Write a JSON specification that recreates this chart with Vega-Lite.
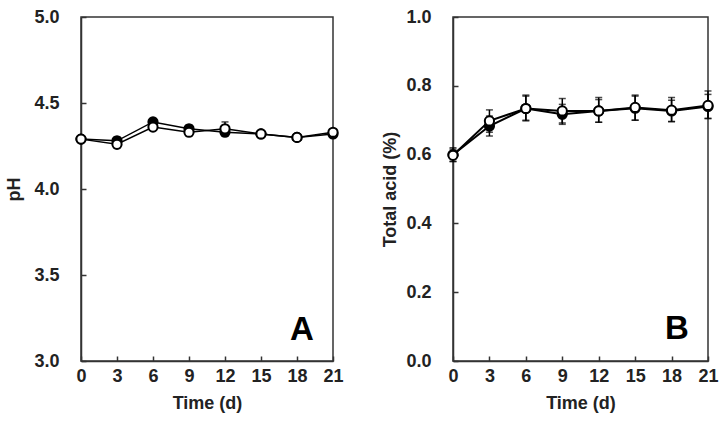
{
  "$schema": "https://vega.github.io/schema/vega-lite/v6.json",
  "autosize": {"type": "pad"},
  "padding": {"left": 5, "top": 7, "right": 0, "bottom": 0},
  "background": "white",
  "bounds": "flush",
  "spacing": 120,
  "datasets": {
    "ph": [
      {"t": 0, "series": "filled", "v": 4.29, "lo": 4.28, "hi": 4.30},
      {"t": 3, "series": "filled", "v": 4.28, "lo": 4.26, "hi": 4.30},
      {"t": 6, "series": "filled", "v": 4.39, "lo": 4.37, "hi": 4.41},
      {"t": 9, "series": "filled", "v": 4.35, "lo": 4.33, "hi": 4.37},
      {"t": 12, "series": "filled", "v": 4.33, "lo": 4.31, "hi": 4.35},
      {"t": 15, "series": "filled", "v": 4.32, "lo": 4.31, "hi": 4.33},
      {"t": 18, "series": "filled", "v": 4.30, "lo": 4.29, "hi": 4.31},
      {"t": 21, "series": "filled", "v": 4.32, "lo": 4.31, "hi": 4.33},
      {"t": 0, "series": "open", "v": 4.29, "lo": 4.28, "hi": 4.30},
      {"t": 3, "series": "open", "v": 4.26, "lo": 4.24, "hi": 4.28},
      {"t": 6, "series": "open", "v": 4.36, "lo": 4.35, "hi": 4.37},
      {"t": 9, "series": "open", "v": 4.33, "lo": 4.31, "hi": 4.35},
      {"t": 12, "series": "open", "v": 4.35, "lo": 4.31, "hi": 4.39},
      {"t": 15, "series": "open", "v": 4.32, "lo": 4.31, "hi": 4.33},
      {"t": 18, "series": "open", "v": 4.30, "lo": 4.29, "hi": 4.31},
      {"t": 21, "series": "open", "v": 4.33, "lo": 4.32, "hi": 4.34}
    ],
    "acid": [
      {"t": 0, "series": "filled", "v": 0.600, "lo": 0.580, "hi": 0.620},
      {"t": 3, "series": "filled", "v": 0.683, "lo": 0.654, "hi": 0.712},
      {"t": 6, "series": "filled", "v": 0.734, "lo": 0.698, "hi": 0.770},
      {"t": 9, "series": "filled", "v": 0.717, "lo": 0.688, "hi": 0.746},
      {"t": 12, "series": "filled", "v": 0.727, "lo": 0.694, "hi": 0.760},
      {"t": 15, "series": "filled", "v": 0.735, "lo": 0.700, "hi": 0.770},
      {"t": 18, "series": "filled", "v": 0.727, "lo": 0.696, "hi": 0.758},
      {"t": 21, "series": "filled", "v": 0.740, "lo": 0.705, "hi": 0.775},
      {"t": 0, "series": "open", "v": 0.598, "lo": 0.580, "hi": 0.616},
      {"t": 3, "series": "open", "v": 0.698, "lo": 0.665, "hi": 0.730},
      {"t": 6, "series": "open", "v": 0.734, "lo": 0.700, "hi": 0.773},
      {"t": 9, "series": "open", "v": 0.727, "lo": 0.692, "hi": 0.763},
      {"t": 12, "series": "open", "v": 0.727, "lo": 0.694, "hi": 0.766},
      {"t": 15, "series": "open", "v": 0.737, "lo": 0.700, "hi": 0.773},
      {"t": 18, "series": "open", "v": 0.729, "lo": 0.696, "hi": 0.766},
      {"t": 21, "series": "open", "v": 0.743, "lo": 0.705, "hi": 0.785}
    ],
    "labA": [{"t": 18.4, "v": 3.12, "label": "A"}],
    "labB": [{"t": 18.45, "v": 0.064, "label": "B"}]
  },
  "config": {
    "font": "Liberation Sans",
    "view": {"stroke": "#333", "strokeWidth": 1.5},
    "axis": {
      "grid": false,
      "labelFont": "Liberation Sans",
      "labelFontSize": 18,
      "labelFontWeight": "bold",
      "labelColor": "#222",
      "titleFont": "Liberation Sans",
      "titleFontSize": 18,
      "titleFontWeight": "bold",
      "titleColor": "#222",
      "tickSize": -5,
      "tickColor": "#333",
      "tickWidth": 1.5,
      "domainColor": "#333",
      "domainWidth": 1.5,
      "labelFlush": false,
      "labelOverlap": false
    },
    "axisX": {"labelPadding": 11, "titlePadding": 9},
    "axisY": {"labelPadding": 27, "titlePadding": 10}
  },
  "hconcat": [
    {
      "width": 252,
      "height": 344,
      "data": {"name": "ph"},
      "encoding": {
        "x": {"field": "t", "type": "quantitative", "title": "Time (d)",
              "scale": {"domain": [0, 21], "nice": false},
              "axis": {"values": [0, 3, 6, 9, 12, 15, 18, 21]}},
        "y": {"field": "v", "type": "quantitative", "title": "pH",
              "scale": {"domain": [3, 5], "nice": false},
              "axis": {"values": [3, 3.5, 4, 4.5, 5], "format": ".1f"}}
      },
      "layer": [
        {"mark": {"type": "line", "color": "black", "strokeWidth": 1.5},
         "encoding": {"detail": {"field": "series"}}},
        {"mark": {"type": "errorbar", "ticks": {"size": 7, "color": "black", "strokeWidth": 1.5}, "color": "black", "thickness": 1.5},
         "encoding": {"y": {"field": "lo", "type": "quantitative"}, "y2": {"field": "hi"}, "detail": {"field": "series"}}},
        {"mark": {"type": "point", "filled": true, "size": 85, "stroke": "black", "strokeWidth": 2, "opacity": 1},
         "encoding": {"fill": {"field": "series", "type": "nominal", "scale": {"domain": ["filled", "open"], "range": ["black", "white"]}, "legend": null}}},
        {"data": {"name": "labA"},
         "mark": {"type": "text", "font": "Liberation Sans", "fontSize": 33, "fontWeight": "bold", "color": "black", "align": "center", "baseline": "alphabetic"},
         "encoding": {"text": {"field": "label"}}}
      ]
    },
    {
      "width": 255,
      "height": 344,
      "data": {"name": "acid"},
      "encoding": {
        "x": {"field": "t", "type": "quantitative", "title": "Time (d)",
              "scale": {"domain": [0, 21], "nice": false},
              "axis": {"values": [0, 3, 6, 9, 12, 15, 18, 21]}},
        "y": {"field": "v", "type": "quantitative", "title": "Total acid (%)",
              "scale": {"domain": [0, 1], "nice": false},
              "axis": {"values": [0, 0.2, 0.4, 0.6, 0.8, 1.0], "format": ".1f", "titlePadding": 6}}
      },
      "layer": [
        {"mark": {"type": "line", "color": "black", "strokeWidth": 2},
         "encoding": {"detail": {"field": "series"}}},
        {"mark": {"type": "errorbar", "ticks": {"size": 7, "color": "black", "strokeWidth": 1.5}, "color": "black", "thickness": 1.5},
         "encoding": {"y": {"field": "lo", "type": "quantitative"}, "y2": {"field": "hi"}, "detail": {"field": "series"}}},
        {"mark": {"type": "point", "filled": true, "size": 85, "stroke": "black", "strokeWidth": 2, "opacity": 1},
         "encoding": {"fill": {"field": "series", "type": "nominal", "scale": {"domain": ["filled", "open"], "range": ["black", "white"]}, "legend": null}}},
        {"data": {"name": "labB"},
         "mark": {"type": "text", "font": "Liberation Sans", "fontSize": 33, "fontWeight": "bold", "color": "black", "align": "center", "baseline": "alphabetic"},
         "encoding": {"text": {"field": "label"}}}
      ]
    }
  ]
}
